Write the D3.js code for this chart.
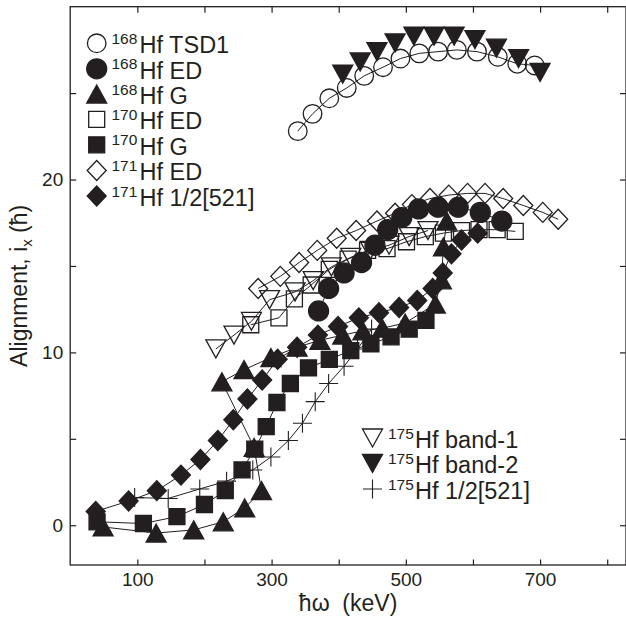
<!DOCTYPE html>
<html>
<head>
<meta charset="utf-8">
<script src="https://cdn.jsdelivr.net/npm/d3@7"></script>
<style>
  body { margin: 0; background: #fff; }
  svg text { font-family: "Liberation Sans", Arial, Helvetica, sans-serif; fill: #231f20; }
</style>
</head>
<body>
<svg id="chart" width="626" height="622"></svg>
<script>
// Rotational frequency ħω (keV) and aligned angular momentum i_x (ħ) per band

// 168Hf TSD1
const omegaTSD1 = [339, 361, 386, 412, 438, 466, 492, 520, 548, 576, 606, 637, 666, 692];
const ixTSD1    = [22.8, 23.8, 24.7, 25.3, 26.0, 26.5, 27.0, 27.3, 27.4, 27.5, 27.4, 27.1, 26.7, 26.6];

// 168Hf ED
const omega168ED = [370, 385, 408, 434, 454, 473, 494, 519, 548, 578, 611, 643];
const ix168ED    = [12.4, 13.7, 14.6, 15.2, 16.2, 17.1, 17.8, 18.3, 18.4, 18.4, 18.1, 17.6];

// 168Hf G (ground band, backbends near 280 keV)
const omega168G = [49, 128, 184, 228, 260, 285, 274, 226, 259, 299, 338, 372, 406, 436, 465, 499, 544, 553, 556, 561];
const ix168G    = [-0.1, -0.45, -0.27, 0.2, 1.0, 2.0, 4.5, 8.3, 9.0, 9.7, 10.3, 10.7, 11.0, 11.25, 11.4, 11.7, 12.8, 14.2, 16.1, 17.6];

// 170Hf ED
const omega170ED = [269, 311, 334, 359, 386, 414, 443, 472, 501, 529, 556, 583, 609, 636, 663];
const ix170ED    = [11.6, 12.0, 13.1, 13.9, 14.8, 15.4, 15.9, 16.0, 16.4, 16.7, 16.9, 17.05, 17.1, 17.1, 17.0];

// 170Hf G
const omega170G = [40, 109, 159, 200, 231, 256, 275, 292, 308, 328, 355, 386, 418, 448, 478, 505, 530];
const ix170G    = [0.2, 0.1, 0.5, 1.2, 2.0, 3.2, 4.4, 5.7, 7.1, 8.2, 9.1, 9.6, 10.1, 10.5, 10.9, 11.35, 11.85];

// 171Hf ED
const omega171ED = [280, 313, 341, 368, 397, 426, 457, 484, 509, 536, 564, 592, 618, 645, 675, 704, 727];
const ix171ED    = [13.7, 14.4, 15.2, 15.9, 16.6, 17.05, 17.6, 18.05, 18.55, 18.9, 19.1, 19.2, 19.2, 18.9, 18.5, 18.1, 17.7];

// 171Hf 1/2[521]
const omega171N = [38, 87, 129, 165, 194, 220, 243, 264, 286, 309, 338, 369, 399, 430, 460, 490, 517, 540, 555, 568, 583, 607];
const ix171N    = [0.8, 1.4, 2.0, 2.9, 3.8, 4.9, 6.1, 7.3, 8.4, 9.6, 10.3, 11.0, 11.5, 12.0, 12.3, 12.6, 13.0, 13.7, 14.6, 15.7, 16.5, 16.9];

// 175Hf band-1
const omegaB1 = [217, 244, 270, 297, 335, 362, 389, 418, 447, 475, 505, 533];
const ixB1    = [10.2, 11.0, 11.8, 13.05, 13.5, 14.15, 14.95, 15.5, 15.9, 16.2, 16.7, 17.05];

// 175Hf band-2
const omegaB2 = [406, 432, 457, 484, 512, 542, 572, 603, 635, 668, 700];
const ixB2    = [26.1, 26.8, 27.4, 27.9, 28.3, 28.3, 28.3, 28.1, 27.6, 27.0, 26.2];

// 175Hf 1/2[521]
const omega175N = [96, 146, 193, 233, 272, 299, 325, 346, 365, 385, 408, 428, 449];
const ix175N    = [1.6, 1.55, 2.1, 2.55, 3.2, 3.95, 4.9, 5.9, 7.15, 8.2, 9.2, 10.2, 11.35];

// Axis ticks
const xTicks = [100, 200, 300, 400, 500, 600, 700, 800];
const xLabels = [100, 300, 500, 700];
const yTicks = [0, 5, 10, 15, 20, 25];
const yLabels = [0, 10, 20];

const INK = "#231f20";

const zip = (xs, ys) => xs.map((v, i) => [v, ys[i]]);

const series = [
  { mass: "168", name: "Hf TSD1",     pts: zip(omegaTSD1, ixTSD1),   shape: "circle",  filled: false, line: true },
  { mass: "168", name: "Hf ED",       pts: zip(omega168ED, ix168ED), shape: "circle",  filled: true,  line: true },
  { mass: "168", name: "Hf G",        pts: zip(omega168G, ix168G),   shape: "triUp",   filled: true,  line: true },
  { mass: "170", name: "Hf ED",       pts: zip(omega170ED, ix170ED), shape: "square",  filled: false, line: true },
  { mass: "170", name: "Hf G",        pts: zip(omega170G, ix170G),   shape: "square",  filled: true,  line: true },
  { mass: "171", name: "Hf ED",       pts: zip(omega171ED, ix171ED), shape: "diamond", filled: false, line: true },
  { mass: "171", name: "Hf 1/2[521]", pts: zip(omega171N, ix171N),   shape: "diamond", filled: true,  line: true },
  { mass: "175", name: "Hf band-1",   pts: zip(omegaB1, ixB1),       shape: "triDown", filled: false, line: true },
  { mass: "175", name: "Hf band-2",   pts: zip(omegaB2, ixB2),       shape: "triDown", filled: true,  line: false },
  { mass: "175", name: "Hf 1/2[521]", pts: zip(omega175N, ix175N),   shape: "plus",    filled: false, line: true }
];

function markerPath(shape, filled) {
  switch (shape) {
    case "circle": {
      const r = filled ? 10 : 9.3;
      const p = d3.path(); p.moveTo(r, 0); p.arc(0, 0, r, 0, 2 * Math.PI); p.closePath();
      return p.toString();
    }
    case "square":  return "M-8,-8H8V8H-8Z";
    case "diamond": return "M0,-10L9.5,0L0,10L-9.5,0Z";
    case "triUp":   return "M0,-9L10,9L-10,9Z";
    case "triDown": return "M0,9L10,-9L-10,-9Z";
    case "plus":    return "M-9.5,0H9.5M0,-9.5V9.5";
  }
}

const svg = d3.select("#chart");
const W = 626, H = 622;

const x = d3.scaleLinear().domain([0, 828]).range([70.2, 626]);
const y = d3.scaleLinear().domain([-2.3, 30]).range([565, 6.7]);

// Frame
svg.append("rect")
  .attr("x", x(0)).attr("y", y(30))
  .attr("width", x(828) - x(0)).attr("height", y(-2.3) - y(30))
  .attr("fill", "none").attr("stroke", INK).attr("stroke-width", 1.3);

function styleAxis(g) {
  g.select(".domain").remove();
  g.selectAll(".tick line").attr("stroke", INK).attr("stroke-width", 1.2);
  g.selectAll(".tick text").attr("font-size", 19).attr("fill", INK)
    .style("font-family", '"Liberation Sans", Arial, Helvetica, sans-serif');
}

svg.append("g").attr("transform", `translate(0,${y(-2.3)})`)
  .call(d3.axisBottom(x).tickValues(xTicks).tickSize(-5.5).tickPadding(8)
    .tickFormat(d => xLabels.includes(d) ? d : ""))
  .call(styleAxis);
svg.append("g").attr("transform", `translate(0,${y(30)})`)
  .call(d3.axisTop(x).tickValues(xTicks).tickSize(-6).tickFormat(""))
  .call(styleAxis);
svg.append("g").attr("transform", `translate(${x(0)},0)`)
  .call(d3.axisLeft(y).tickValues(yTicks).tickSize(-6).tickPadding(7)
    .tickFormat(d => yLabels.includes(d) ? d : ""))
  .call(styleAxis);
svg.append("g").attr("transform", `translate(${x(828) - 0.5},0)`)
  .call(d3.axisRight(y).tickValues(yTicks).tickSize(-5.5).tickFormat(""))
  .call(styleAxis);

// Axis titles
svg.append("text")
  .attr("x", (x(0) + x(828)) / 2).attr("y", 611)
  .attr("text-anchor", "middle").attr("font-size", 23)
  .style("white-space", "pre")
  .text("ħω  (keV)");

const yTitle = svg.append("text")
  .attr("transform", `translate(27,${(y(-2.3) + y(30)) / 2}) rotate(-90)`)
  .attr("text-anchor", "middle").attr("font-size", 23)
  .style("white-space", "pre");
yTitle.append("tspan").text("Alignment, i");
yTitle.append("tspan").attr("font-size", 15).attr("dy", 5).text("x");
yTitle.append("tspan").attr("dy", -5).text(" (ħ)");

// Connecting lines
const line = d3.line().x(d => x(d[0])).y(d => y(d[1]));
const plot = svg.append("g");
series.filter(s => s.line).forEach(s => {
  plot.append("path").attr("d", line(s.pts))
    .attr("fill", "none").attr("stroke", INK).attr("stroke-width", 1);
});

// Markers: filled bands first, open outlines on top
const order = series.filter(s => s.filled).concat(series.filter(s => !s.filled));
order.forEach(s => {
  plot.append("g").selectAll("path").data(s.pts).join("path")
    .attr("transform", d => `translate(${x(d[0])},${y(d[1])})`)
    .attr("d", markerPath(s.shape, s.filled))
    .attr("fill", s.filled ? INK : "none")
    .attr("stroke", INK)
    .attr("stroke-width", s.shape === "plus" ? 1.1 : 1.3);
});

// Legends
function legend(items, mx, rowY, supX, textX) {
  items.forEach((s, i) => {
    const cy = rowY[i];
    svg.append("path")
      .attr("transform", `translate(${mx},${cy})`)
      .attr("d", markerPath(s.shape, s.filled))
      .attr("fill", s.filled ? INK : "none")
      .attr("stroke", INK)
      .attr("stroke-width", s.shape === "plus" ? 1.1 : 1.3);
    svg.append("text").attr("x", supX).attr("y", cy + 0.5)
      .attr("font-size", 15.5).text(s.mass);
    svg.append("text").attr("x", textX).attr("y", cy + 9.8)
      .attr("font-size", 23.5).text(s.name);
  });
}

legend(series.slice(0, 7), 96.7, [43.3, 68.8, 94.0, 119.3, 144.8, 170.5, 196.0], 111.5, 139.5);
legend(series.slice(7), 372.5, [438.0, 463.5, 489.0], 388, 415);
</script>
</body>
</html>
